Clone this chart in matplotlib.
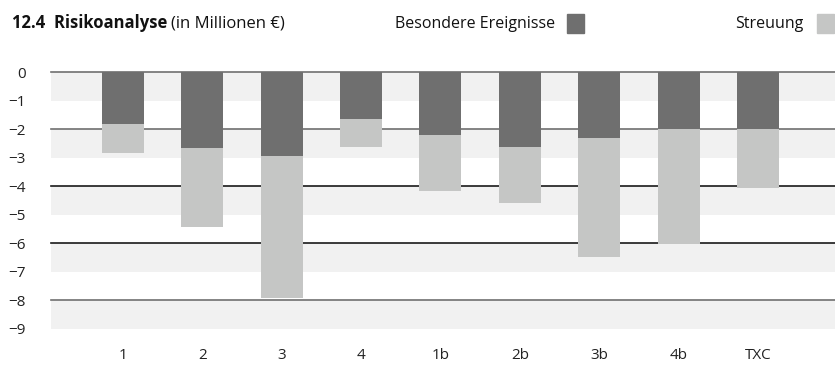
import numpy as np
import matplotlib.pyplot as plt

plt.rcParams['font.family'] = ['Open Sans', 'DejaVu Sans']

categories = ['1', '2', '3', '4', '1b', '2b', '3b', '4b', 'TXC']
# dark part: from 0 down to this value
besondere = [-1.82, -2.65, -2.93, -1.63, -2.19, -2.61, -2.30, -2.0, -2.0]
# light part stacked below the dark part
streuung = [-1.0, -2.77, -4.99, -0.98, -1.97, -1.97, -4.18, -4.02, -2.05]
y_ticks = [0, -1, -2, -3, -4, -5, -6, -7, -8, -9]

dark = '#6f6f6f'
light = '#c5c6c5'
band = '#f1f1f1'

fig = plt.figure(figsize=(8.35, 3.65), dpi=100)
ax = fig.add_axes([51 / 835, 36.5 / 365, 784 / 835, 256.2 / 365])

x = np.arange(len(categories))

# alternating background bands
for top in range(0, -9, -2):
    ax.axhspan(top - 1, top, color=band, lw=0, zorder=0)

# horizontal rules every 2 units
rule_colors = {0: '#707070', -2: '#707070', -4: '#1a1a1a', -6: '#1a1a1a', -8: '#707070'}
for yv, c in rule_colors.items():
    ax.axhline(yv, color=c, lw=1.2, zorder=1, clip_on=False)

ax.bar(x, besondere, width=0.53, color=dark, zorder=2)
ax.bar(x, streuung, width=0.53, bottom=besondere, color=light, zorder=2)

ax.set_xlim(-0.906, 8.97)
ax.set_ylim(-9, 0)
ax.set_yticks(y_ticks)
ax.set_yticklabels(['0' if v == 0 else f'\u2212{abs(v)}' for v in y_ticks])
ax.set_xticks(x)
ax.set_xticklabels(categories)
ax.tick_params(axis='both', length=0, labelsize=11, colors='#222222')
ax.tick_params(axis='y', pad=18)
ax.tick_params(axis='x', pad=14)
for s in ax.spines.values():
    s.set_visible(False)

# title, bold number and name followed by the unit in regular weight
ty = 1 - 23.5 / 365
t1 = fig.text(12 / 835, ty, '12.4  Risikoanalyse', fontsize=12, fontweight='bold',
              va='center', color='#111111')
fig.canvas.draw()
bb = t1.get_window_extent()
fig.text((bb.x1 + 4) / 835, ty, '(in Millionen \u20ac)', fontsize=12,
         va='center', color='#111111')

# legend entries
fig.text(555 / 835, ty, 'Besondere Ereignisse', fontsize=11.5, ha='right',
         va='center', color='#111111')
fig.patches.append(plt.Rectangle((567 / 835, 1 - 33 / 365), 17 / 835, 19 / 365,
                                 transform=fig.transFigure, color=dark))
fig.text(803 / 835, ty, 'Streuung', fontsize=11.5, ha='right',
         va='center', color='#111111')
fig.patches.append(plt.Rectangle((817 / 835, 1 - 33 / 365), 17 / 835, 19 / 365,
                                 transform=fig.transFigure, color=light))

fig.savefig('out.png', dpi=100)
